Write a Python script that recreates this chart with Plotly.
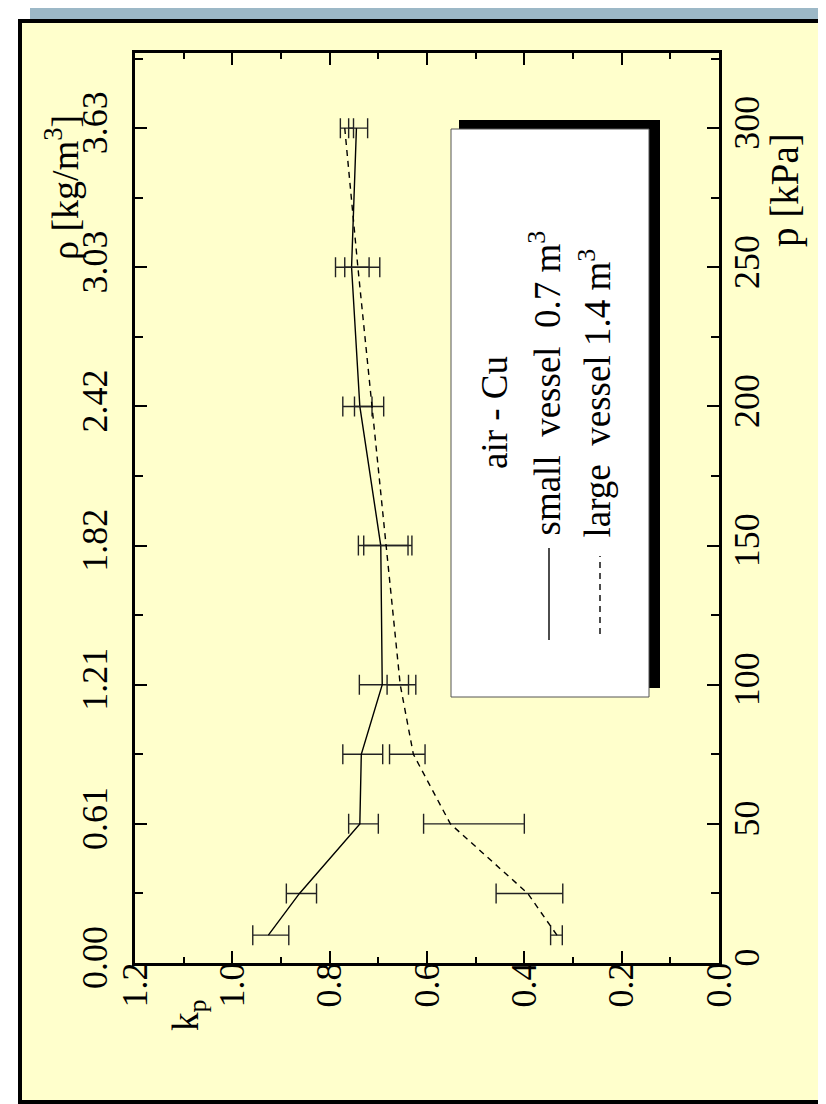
import plotly.graph_objects as go

# ---------------- data ----------------
p_kpa = [10, 25, 50, 75, 100, 150, 200, 250, 300]

small_k = [0.926, 0.862, 0.738, 0.735, 0.692, 0.695, 0.738, 0.755, 0.745]
small_lo = [0.884, 0.827, 0.700, 0.691, 0.638, 0.639, 0.713, 0.719, 0.722]
small_hi = [0.958, 0.889, 0.761, 0.773, 0.739, 0.741, 0.773, 0.788, 0.761]

large_k = [0.333, 0.393, 0.552, 0.628, 0.655, 0.684, 0.714, 0.742, 0.769]
large_lo = [0.322, 0.321, 0.400, 0.604, 0.623, 0.631, 0.689, 0.697, 0.751]
large_hi = [0.346, 0.458, 0.607, 0.677, 0.682, 0.730, 0.749, 0.769, 0.778]

p_ticks = [0, 50, 100, 150, 200, 250, 300]
rho_labels = ["0.00", "0.61", "1.21", "1.82", "2.42", "3.03", "3.63"]
kp_ticks = [0.0, 0.2, 0.4, 0.6, 0.8, 1.0, 1.2]

# ---------------- layout geometry ----------------
W, H = 826, 1104
L, R, T, B = 127, 711, 45, 955  # plot area in pixels
FONT = "Liberation Serif, Times New Roman, serif"
YELLOW = "#FFFFCC"


def px(x):
    return (x - L) / (R - L)


def py(y):
    return (B - y) / (B - T)


fig = go.Figure()


def errs(k, lo, hi):
    return [h - v for v, h in zip(k, hi)], [v - l for v, l in zip(k, lo)]


s_up, s_dn = errs(small_k, small_lo, small_hi)
l_up, l_dn = errs(large_k, large_lo, large_hi)

fig.add_trace(go.Scatter(
    x=small_k, y=p_kpa, mode="lines",
    line=dict(color="black", width=1.4),
    error_x=dict(type="data", symmetric=False, array=s_up, arrayminus=s_dn,
                 color="#222", thickness=1.4, width=10),
    showlegend=False, hoverinfo="skip"))

fig.add_trace(go.Scatter(
    x=large_k, y=p_kpa, mode="lines",
    line=dict(color="black", width=1.4, dash="6px,5px"),
    error_x=dict(type="data", symmetric=False, array=l_up, arrayminus=l_dn,
                 color="#222", thickness=1.4, width=10),
    showlegend=False, hoverinfo="skip"))

# dummy trace so the density axis is drawn
fig.add_trace(go.Scatter(x=[None], y=[None], yaxis="y2", showlegend=False,
                         hoverinfo="skip"))

tickfont = dict(family=FONT, size=36, color="black")
PRANGE = [0, 327]

fig.update_layout(
    width=W, height=H, autosize=False,
    margin=dict(l=L, r=W - R, t=T, b=H - B, pad=0),
    paper_bgcolor="white",
    plot_bgcolor="rgba(0,0,0,0)",
    xaxis=dict(
        range=[1.2, 0.0], tickvals=kp_ticks, tickformat=".1f",
        ticks="inside", ticklen=12, tickwidth=2, tickcolor="black",
        minor=dict(dtick=0.1, ticks="inside", ticklen=6, tickwidth=2, tickcolor="black"),
        showline=True, linecolor="black", linewidth=3, mirror="ticks",
        showgrid=False, zeroline=False, tickangle=-90, tickfont=tickfont,
        ticklabelstandoff=-18,
    ),
    yaxis=dict(
        range=PRANGE, tickvals=p_ticks, side="right",
        ticks="inside", ticklen=12, tickwidth=2, tickcolor="black",
        minor=dict(dtick=25, ticks="inside", ticklen=8, tickwidth=2, tickcolor="black"),
        showline=True, linecolor="black", linewidth=3, mirror="ticks",
        showgrid=False, zeroline=False, tickangle=-90, tickfont=tickfont,
        ticklabelstandoff=-6,
    ),
    yaxis2=dict(
        range=PRANGE, overlaying="y", side="left",
        tickvals=p_ticks, ticktext=rho_labels,
        ticks="", showline=False, showgrid=False, zeroline=False,
        tickangle=-90, tickfont=tickfont, ticklabelstandoff=20,
    ),
)

shapes = []
# yellow panel and outer frame
shapes.append(dict(type="rect", xref="paper", yref="paper", layer="below",
                   x0=px(10), x1=px(820), y0=py(1096), y1=py(11),
                   fillcolor=YELLOW, line=dict(width=0)))
shapes.append(dict(type="rect", xref="paper", yref="paper", layer="below",
                   x0=px(22), x1=px(826), y0=py(11), y1=py(0),
                   fillcolor="#9CB8C7", line=dict(width=0)))
shapes.append(dict(type="rect", xref="paper", yref="paper", layer="above",
                   x0=px(12), x1=px(818), y0=py(1094), y1=py(13),
                   line=dict(color="black", width=4)))
# legend box shadow and box
shapes.append(dict(type="rect", xref="paper", yref="paper", layer="above",
                   x0=px(451), x1=px(652), y0=py(680), y1=py(112),
                   fillcolor="black", line=dict(width=0)))
shapes.append(dict(type="rect", xref="paper", yref="paper", layer="above",
                   x0=px(443), x1=px(641), y0=py(689), y1=py(121),
                   fillcolor="white", line=dict(color="#555", width=1)))
# legend line samples
shapes.append(dict(type="line", xref="paper", yref="paper", layer="above",
                   x0=px(541), x1=px(541), y0=py(632), y1=py(540),
                   line=dict(color="black", width=1.4)))
shapes.append(dict(type="line", xref="paper", yref="paper", layer="above",
                   x0=px(592), x1=px(592), y0=py(626), y1=py(548),
                   line=dict(color="black", width=1.4, dash="6px,5px")))
fig.update_layout(shapes=shapes)

tfont = dict(family=FONT, size=37, color="black")
nb = "\u00a0"
annotations = [
    dict(text="air - Cu", x=px(486), y=py(405), xanchor="center", yanchor="middle"),
    dict(text=f"small{nb}{nb}vessel{nb}{nb}0.7 m<sup>3</sup>", x=px(537), y=py(530),
         xanchor="center", yanchor="bottom"),
    dict(text=f"large{nb}{nb}vessel{nb}1.4 m<sup>3</sup>", x=px(587), y=py(532),
         xanchor="center", yanchor="bottom"),
    dict(text="p [kPa]", x=px(777), y=py(182), xanchor="center", yanchor="middle",
         font=dict(family=FONT, size=39, color="black")),
    dict(text="\u03c1 [kg/m<sup>3</sup>]", x=px(54), y=py(180), xanchor="center", yanchor="middle",
         font=dict(family=FONT, size=38, color="black")),
    dict(text="k<sub>p</sub>", x=px(180), y=py(1008), xanchor="center", yanchor="middle"),
]
for a in annotations:
    a.update(xref="paper", yref="paper", showarrow=False, textangle=-90)
    a.setdefault("font", tfont)
fig.update_layout(annotations=annotations)

fig.write_html("out.html")
